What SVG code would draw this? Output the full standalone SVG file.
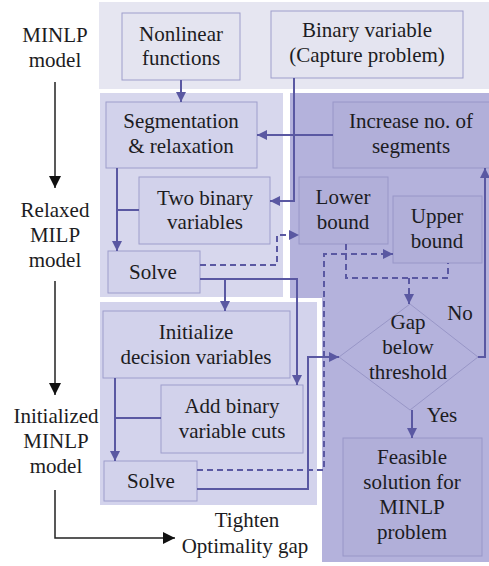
<svg xmlns="http://www.w3.org/2000/svg" width="489" height="566" viewBox="0 0 489 566">
<defs>
<marker id="a" markerUnits="userSpaceOnUse" markerWidth="11" markerHeight="11" refX="10" refY="5" orient="auto"><path d="M0,0 L10,5 L0,10 z" fill="#5a58a2"/></marker>
<marker id="ak" markerUnits="userSpaceOnUse" markerWidth="13" markerHeight="13" refX="12" refY="6" orient="auto"><path d="M0,0 L12,6 L0,12 z" fill="#111"/></marker>
</defs>
<rect width="489" height="566" fill="#ffffff"/>
<g id="panels">
<rect x="99" y="2" width="390" height="87" fill="#e6e6f1"/>
<rect x="100" y="93" width="183" height="204" fill="#d7d7ed"/>
<path d="M290,93 H489 V562 H322 V298 H290 Z" fill="#b4b2dc"/>
<rect x="100" y="302" width="217" height="203" fill="#d3d3ec"/>
</g>
<g id="left-labels" fill="none" stroke="#222" stroke-width="1.5">
<path d="M55,82 V188" marker-end="url(#ak)"/>
<path d="M55,281 V395" marker-end="url(#ak)"/>
<path d="M55,490 V538 H175" marker-end="url(#ak)"/>
</g>
<g id="boxes-top" fill="#e4e4f0" stroke="#9e9ecc" stroke-width="1">
<rect id="n-nonlinear" x="122" y="13" width="118" height="67"/>
<rect id="n-binary" x="271" y="11" width="192" height="67"/>
</g>
<g id="boxes-light" fill="#d2d2eb" stroke="#9e9ecc" stroke-width="1">
<rect id="n-seg" x="106" y="102" width="151" height="66"/>
<rect id="n-two" x="139" y="177" width="131" height="67"/>
<rect id="n-solve1" x="108" y="251" width="92" height="42"/>
<rect id="n-init" x="103" y="311" width="187" height="67"/>
<rect id="n-cuts" x="161" y="385" width="142" height="68"/>
<rect id="n-solve2" x="104" y="461" width="93" height="40"/>
</g>
<g id="boxes-dark" fill="#b1afd9" stroke="#9896c7" stroke-width="1">
<rect id="n-increase" x="333" y="102" width="160" height="66"/>
<rect id="n-lower" x="299" y="177" width="89" height="67"/>
<rect id="n-upper" x="393" y="196" width="89" height="67"/>
<path id="n-gap" d="M410,304 L478,357 L410,410 L339,357 Z" fill="none"/>
<rect id="n-feasible" x="343" y="438" width="139" height="118"/>
</g>
<g id="connectors" fill="none" stroke="#5a58a2" stroke-width="2">
<path d="M181,80 V102" marker-end="url(#a)"/>
<path d="M294,78 V201 H270" marker-end="url(#a)"/>
<path d="M333,135 H257" marker-end="url(#a)"/>
<path d="M117,168 V251" marker-end="url(#a)"/>
<path d="M139,210 H117"/>
<path d="M200,265 H277 V235 H299" stroke-dasharray="6 4" marker-end="url(#a)"/>
<path d="M200,279 H297 V385" marker-end="url(#a)"/>
<path d="M225,279 V311" marker-end="url(#a)"/>
<path d="M115,378 V461" marker-end="url(#a)"/>
<path d="M161,418 H115"/>
<path d="M197,470 H324 V254 H393" stroke-dasharray="6 4" marker-end="url(#a)"/>
<path d="M197,489 H308 V357 H339" marker-end="url(#a)"/>
<path d="M346,244 V278 H448 V263" stroke-dasharray="6 4"/>
<path d="M409,278 V304" stroke-dasharray="6 4" marker-end="url(#a)"/>
<path d="M478,357 H485 V168" marker-end="url(#a)"/>
<path d="M412,410 V438" marker-end="url(#a)"/>
</g>
<text font-family="'Liberation Serif'" font-size="21" fill="#1c1c22" text-anchor="middle" x="55" y="42">MINLP</text>
<text font-family="'Liberation Serif'" font-size="21" fill="#1c1c22" text-anchor="middle" x="55" y="67">model</text>
<text font-family="'Liberation Serif'" font-size="21" fill="#1c1c22" text-anchor="middle" x="55" y="217">Relaxed</text>
<text font-family="'Liberation Serif'" font-size="21" fill="#1c1c22" text-anchor="middle" x="55" y="242">MILP</text>
<text font-family="'Liberation Serif'" font-size="21" fill="#1c1c22" text-anchor="middle" x="55" y="267">model</text>
<text font-family="'Liberation Serif'" font-size="21" fill="#1c1c22" text-anchor="middle" x="56" y="423">Initialized</text>
<text font-family="'Liberation Serif'" font-size="21" fill="#1c1c22" text-anchor="middle" x="56" y="448">MINLP</text>
<text font-family="'Liberation Serif'" font-size="21" fill="#1c1c22" text-anchor="middle" x="56" y="473">model</text>
<text font-family="'Liberation Serif'" font-size="21" fill="#1c1c22" text-anchor="middle" x="247" y="527">Tighten</text>
<text font-family="'Liberation Serif'" font-size="21" fill="#1c1c22" text-anchor="middle" x="245" y="553">Optimality gap</text>
<text font-family="'Liberation Serif'" font-size="21" fill="#1c1c22" text-anchor="middle" x="181" y="41">Nonlinear</text>
<text font-family="'Liberation Serif'" font-size="21" fill="#1c1c22" text-anchor="middle" x="181" y="65">functions</text>
<text font-family="'Liberation Serif'" font-size="21" fill="#1c1c22" text-anchor="middle" x="367" y="37">Binary variable</text>
<text font-family="'Liberation Serif'" font-size="21" fill="#1c1c22" text-anchor="middle" x="367" y="62">(Capture problem)</text>
<text font-family="'Liberation Serif'" font-size="21" fill="#1c1c22" text-anchor="middle" x="181" y="128">Segmentation</text>
<text font-family="'Liberation Serif'" font-size="21" fill="#1c1c22" text-anchor="middle" x="181" y="153">&amp; relaxation</text>
<text font-family="'Liberation Serif'" font-size="21" fill="#1c1c22" text-anchor="middle" x="411" y="128">Increase no. of</text>
<text font-family="'Liberation Serif'" font-size="21" fill="#1c1c22" text-anchor="middle" x="411" y="153">segments</text>
<text font-family="'Liberation Serif'" font-size="21" fill="#1c1c22" text-anchor="middle" x="205" y="205">Two binary</text>
<text font-family="'Liberation Serif'" font-size="21" fill="#1c1c22" text-anchor="middle" x="205" y="229">variables</text>
<text font-family="'Liberation Serif'" font-size="21" fill="#1c1c22" text-anchor="middle" x="153" y="279">Solve</text>
<text font-family="'Liberation Serif'" font-size="21" fill="#1c1c22" text-anchor="middle" x="343" y="204">Lower</text>
<text font-family="'Liberation Serif'" font-size="21" fill="#1c1c22" text-anchor="middle" x="343" y="229">bound</text>
<text font-family="'Liberation Serif'" font-size="21" fill="#1c1c22" text-anchor="middle" x="437" y="223">Upper</text>
<text font-family="'Liberation Serif'" font-size="21" fill="#1c1c22" text-anchor="middle" x="437" y="248">bound</text>
<text font-family="'Liberation Serif'" font-size="21" fill="#1c1c22" text-anchor="middle" x="196" y="339">Initialize</text>
<text font-family="'Liberation Serif'" font-size="21" fill="#1c1c22" text-anchor="middle" x="196" y="364">decision variables</text>
<text font-family="'Liberation Serif'" font-size="21" fill="#1c1c22" text-anchor="middle" x="232" y="413">Add binary</text>
<text font-family="'Liberation Serif'" font-size="21" fill="#1c1c22" text-anchor="middle" x="232" y="438">variable cuts</text>
<text font-family="'Liberation Serif'" font-size="21" fill="#1c1c22" text-anchor="middle" x="151" y="488">Solve</text>
<text font-family="'Liberation Serif'" font-size="21" fill="#1c1c22" text-anchor="middle" x="408" y="329">Gap</text>
<text font-family="'Liberation Serif'" font-size="21" fill="#1c1c22" text-anchor="middle" x="408" y="354">below</text>
<text font-family="'Liberation Serif'" font-size="21" fill="#1c1c22" text-anchor="middle" x="408" y="379">threshold</text>
<text font-family="'Liberation Serif'" font-size="21" fill="#1c1c22" text-anchor="middle" x="412" y="464">Feasible</text>
<text font-family="'Liberation Serif'" font-size="21" fill="#1c1c22" text-anchor="middle" x="412" y="489">solution for</text>
<text font-family="'Liberation Serif'" font-size="21" fill="#1c1c22" text-anchor="middle" x="412" y="514">MINLP</text>
<text font-family="'Liberation Serif'" font-size="21" fill="#1c1c22" text-anchor="middle" x="412" y="539">problem</text>
<text font-family="'Liberation Serif'" font-size="21" fill="#1c1c22" text-anchor="middle" x="460" y="320">No</text>
<text font-family="'Liberation Serif'" font-size="21" fill="#1c1c22" text-anchor="middle" x="442" y="422">Yes</text>
</svg>
